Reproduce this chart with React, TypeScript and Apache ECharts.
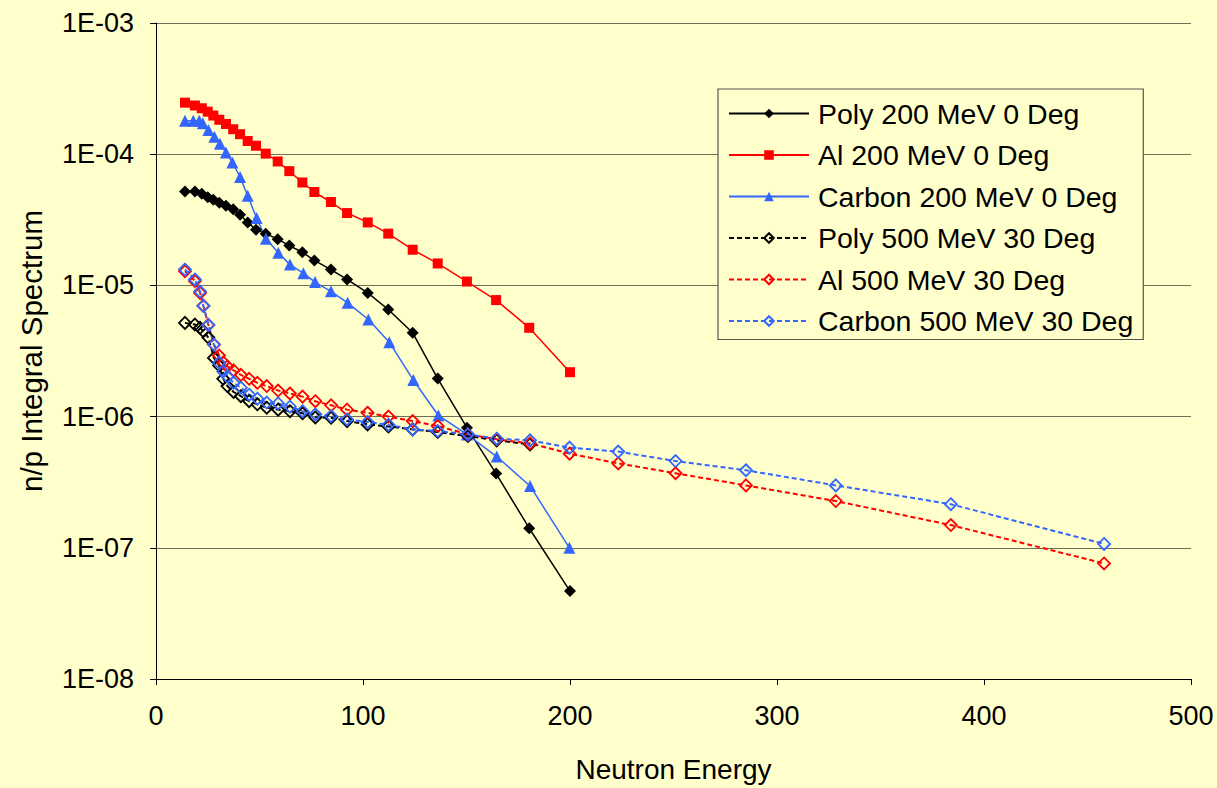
import React, { useEffect, useRef } from "react";
import * as echarts from "echarts";

const energy200 = [14.0, 18.8, 22.1, 25.0, 27.7, 30.6, 33.8, 37.3, 40.6, 44.3, 48.3, 53.0, 58.8, 64.4, 70.7, 76.5, 84.5, 92.3, 102.3, 112.2, 124.0, 136.1, 150.2, 164.3, 180.3, 200.0];
const energyCarbon200 = [14.0, 18.0, 20.9, 22.6, 25.3, 28.2, 30.9, 33.8, 36.9, 40.6, 44.3, 48.6, 53.1, 59.1, 64.7, 71.2, 76.8, 84.5, 92.6, 102.6, 112.7, 124.3, 136.4, 150.2, 164.6, 180.7, 199.7];
const energy500 = [14.0, 18.8, 21.3, 22.9, 25.3, 28.0, 30.5, 32.5, 34.5, 37.5, 41.0, 45.0, 49.0, 53.5, 59.0, 64.7, 70.8, 77.0, 84.6, 92.3, 102.2, 112.3, 124.0, 136.1, 150.7, 164.6, 180.7, 199.8, 223.3, 251.0, 285.0, 328.4, 384.0, 458.0];

const poly200 = [5.2e-5, 5.2e-5, 5.0e-5, 4.7e-5, 4.5e-5, 4.27e-5, 4.05e-5, 3.81e-5, 3.46e-5, 3.02e-5, 2.66e-5, 2.48e-5, 2.25e-5, 2.01e-5, 1.79e-5, 1.55e-5, 1.32e-5, 1.11e-5, 8.77e-6, 6.55e-6, 4.35e-6, 1.95e-6, 8.24e-7, 3.68e-7, 1.41e-7, 4.68e-8];
const al200 = [2.47e-4, 2.35e-4, 2.24e-4, 2.11e-4, 1.97e-4, 1.83e-4, 1.7e-4, 1.55e-4, 1.42e-4, 1.26e-4, 1.16e-4, 1.01e-4, 8.8e-5, 7.43e-5, 6.09e-5, 5.15e-5, 4.32e-5, 3.56e-5, 3.02e-5, 2.48e-5, 1.87e-5, 1.47e-5, 1.07e-5, 7.73e-6, 4.75e-6, 2.18e-6];
const carbon200 = [1.8e-4, 1.8e-4, 1.8e-4, 1.72e-4, 1.53e-4, 1.36e-4, 1.2e-4, 1.03e-4, 8.65e-5, 6.7e-5, 4.82e-5, 3.26e-5, 2.27e-5, 1.77e-5, 1.44e-5, 1.24e-5, 1.06e-5, 9.02e-6, 7.36e-6, 5.5e-6, 3.69e-6, 1.9e-6, 1.02e-6, 7.32e-7, 4.96e-7, 2.96e-7, 1.0e-7];
const poly500 = [5.18e-6, 5.03e-6, 4.75e-6, 4.47e-6, 4.0e-6, 2.8e-6, 2.45e-6, 1.94e-6, 1.71e-6, 1.54e-6, 1.43e-6, 1.31e-6, 1.24e-6, 1.17e-6, 1.13e-6, 1.1e-6, 1.06e-6, 9.86e-7, 9.8e-7, 9.24e-7, 8.72e-7, 8.42e-7, 7.99e-7, 7.62e-7, 7.11e-7, 6.59e-7, 6.14e-7];
const al500 = [1.28e-5, 1.08e-5, 8.77e-6, 7.0e-6, 5.0e-6, 3.54e-6, 2.92e-6, 2.59e-6, 2.41e-6, 2.25e-6, 2.08e-6, 1.94e-6, 1.81e-6, 1.71e-6, 1.58e-6, 1.5e-6, 1.42e-6, 1.31e-6, 1.22e-6, 1.13e-6, 1.07e-6, 1.0e-6, 9.24e-7, 8.47e-7, 7.32e-7, 6.71e-7, 6.25e-7, 5.22e-7, 4.4e-7, 3.7e-7, 2.99e-7, 2.27e-7, 1.49e-7, 7.6e-8];
const carbon500 = [1.32e-5, 1.11e-5, 8.97e-6, 6.96e-6, 4.99e-6, 3.54e-6, 2.57e-6, 2.21e-6, 2.02e-6, 1.81e-6, 1.66e-6, 1.47e-6, 1.37e-6, 1.28e-6, 1.26e-6, 1.19e-6, 1.1e-6, 1.04e-6, 1.01e-6, 9.52e-7, 9.11e-7, 8.65e-7, 7.99e-7, 7.76e-7, 7.32e-7, 6.79e-7, 6.59e-7, 5.8e-7, 5.41e-7, 4.58e-7, 3.9e-7, 2.99e-7, 2.15e-7, 1.07e-7];

const seriesNames = [
  "Poly 200 MeV 0 Deg",
  "Al 200 MeV 0 Deg",
  "Carbon 200 MeV 0 Deg",
  "Poly 500 MeV 30 Deg",
  "Al 500 MeV 30 Deg",
  "Carbon 500 MeV 30 Deg",
];
const xTicks = { min: 0, max: 500, step: 100 };
const yTicks = { min: 1e-8, max: 1e-3 };

const BLACK = "#000000";
const RED = "#FF0000";
const BLUE = "#3366FF";
const BG = "#FFFFCC";
const FONT = "Arial, 'Liberation Sans', sans-serif";

function zip(xs: number[], ys: number[]) {
  return ys.map((y, i) => [xs[i], y]);
}

export default function App() {
  const ref = useRef<HTMLDivElement>(null);
  useEffect(() => {
    if (!ref.current) return;
    const chart = echarts.init(ref.current, undefined, { renderer: "svg" });
    const solid = (name: string, xs: number[], ys: number[], color: string, symbol: string, size: number) => ({
      name,
      type: "line",
      data: zip(xs, ys),
      symbol,
      symbolSize: size,
      lineStyle: { color, width: 1.5, type: "solid" },
      itemStyle: { color, borderWidth: 0 },
      z: 3,
    });
    const dashed = (name: string, xs: number[], ys: number[], color: string) => ({
      name,
      type: "line",
      data: zip(xs, ys),
      symbol: "diamond",
      symbolSize: 12,
      lineStyle: { color, width: 2, type: [5, 3] },
      itemStyle: { color: "rgba(0,0,0,0)", borderColor: color, borderWidth: 1.8 },
      z: 4,
    });
    chart.setOption({
      animation: false,
      backgroundColor: BG,
      textStyle: { fontFamily: FONT },
      grid: { left: 156, right: 26, top: 23, bottom: 108, containLabel: false },
      xAxis: {
        type: "value",
        min: xTicks.min,
        max: xTicks.max,
        interval: xTicks.step,
        name: "Neutron Energy",
        nameLocation: "middle",
        nameGap: 76,
        nameTextStyle: { fontSize: 28, color: BLACK, fontFamily: FONT },
        axisLine: { show: true, onZero: false, lineStyle: { color: BLACK, width: 1 } },
        axisTick: { show: true, inside: false, length: 6, lineStyle: { color: BLACK } },
        axisLabel: { fontSize: 27, color: BLACK, margin: 23, fontFamily: FONT },
        splitLine: { show: false },
      },
      yAxis: {
        type: "log",
        logBase: 10,
        min: yTicks.min,
        max: yTicks.max,
        name: "n/p Integral Spectrum",
        nameLocation: "middle",
        nameGap: 110,
        nameTextStyle: { fontSize: 29.5, color: BLACK, fontFamily: FONT },
        axisLine: { show: true, onZero: false, lineStyle: { color: BLACK, width: 1 } },
        axisTick: { show: true, inside: false, length: 6, lineStyle: { color: BLACK } },
        axisLabel: {
          fontSize: 27,
          color: BLACK,
          margin: 22,
          fontFamily: FONT,
          formatter: (v: number) => {
            const e = Math.round(Math.log10(v));
            return "1E-" + String(-e).padStart(2, "0");
          },
        },
        splitLine: { show: true, lineStyle: { color: "#6f6f55", width: 1.2 } },
      },
      legend: {
        orient: "vertical",
        left: 718,
        top: 89,
        padding: [10, 10, 4, 10],
        itemGap: 12.5,
        itemWidth: 80,
        itemHeight: 12,
        backgroundColor: BG,
        borderColor: "#555555",
        borderWidth: 1.2,
        textStyle: { fontSize: 28.5, color: BLACK, fontFamily: FONT, padding: [0, 0, 0, 4] },
        data: seriesNames,
      },
      series: [
        solid(seriesNames[0], energy200, poly200, BLACK, "diamond", 12),
        solid(seriesNames[1], energy200, al200, RED, "rect", 10),
        solid(seriesNames[2], energyCarbon200, carbon200, BLUE, "triangle", 12),
        dashed(seriesNames[3], energy500, poly500, BLACK),
        dashed(seriesNames[4], energy500, al500, RED),
        dashed(seriesNames[5], energy500, carbon500, BLUE),
      ],
    });
    return () => chart.dispose();
  }, []);
  return <div ref={ref} style={{ position: "fixed", left: 0, top: 0, width: 1217, height: 788 }} />;
}
